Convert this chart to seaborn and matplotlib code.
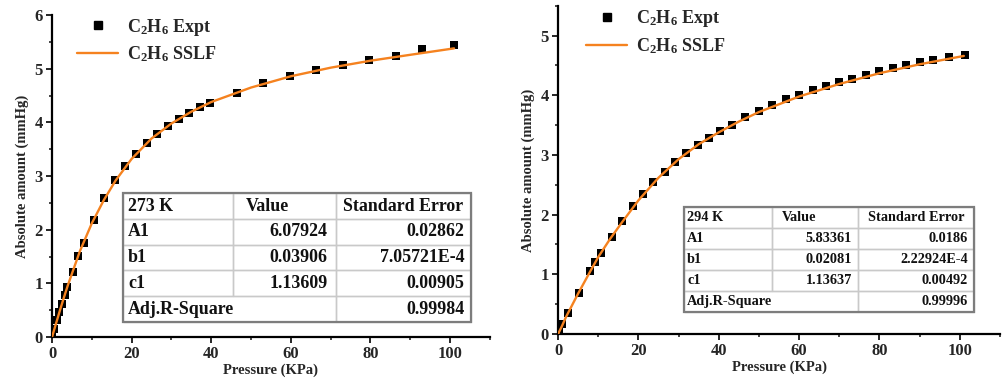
import matplotlib
matplotlib.use("Agg")
import matplotlib.pyplot as plt
import numpy as np
import pandas as pd
import seaborn as sns
from matplotlib.ticker import MultipleLocator
from matplotlib.table import Table
from matplotlib.patches import Rectangle
from matplotlib.lines import Line2D

# ---------------- data ----------------
p_273 = [0.1, 0.6, 1.25, 1.8, 2.4, 3.2, 3.8, 5.2, 6.6, 7.95, 10.5, 13.0, 15.8, 18.4,
         21.0, 23.8, 26.5, 29.2, 31.9, 34.5, 37.3, 39.8, 46.4, 53.1, 59.7, 66.3, 73.0,
         79.7, 86.3, 92.9, 101.1]
q_273 = [0.03, 0.15, 0.31, 0.46, 0.62, 0.78, 0.94, 1.22, 1.51, 1.76, 2.19, 2.59, 2.92,
         3.19, 3.41, 3.61, 3.78, 3.93, 4.07, 4.18, 4.28, 4.37, 4.55, 4.73, 4.86, 4.97,
         5.07, 5.16, 5.24, 5.36, 5.44]
fit_p_273 = [0, 1, 2, 3, 4, 5, 7, 10, 13, 16, 20, 25, 30, 35, 40, 50, 60, 70, 80, 90, 101]
fit_q_273 = [0, 0.25, 0.5, 0.74, 0.97, 1.18, 1.6, 2.12, 2.55, 2.92, 3.32, 3.7, 3.98,
             4.2, 4.38, 4.65, 4.86, 5.02, 5.15, 5.26, 5.38]

p_294 = [0.25, 1.06, 2.46, 5.1, 8.0, 9.2, 10.6, 13.3, 16.0, 18.6, 21.1, 23.6, 26.5,
         29.2, 31.9, 34.7, 37.5, 40.2, 43.2, 46.4, 49.9, 53.3, 56.8, 60.0, 63.4, 66.7,
         69.9, 73.2, 76.7, 79.9, 83.3, 86.7, 90.0, 93.3, 97.4, 101.2]
q_294 = [0.08, 0.17, 0.35, 0.69, 1.05, 1.20, 1.35, 1.62, 1.89, 2.14, 2.34, 2.54, 2.72,
         2.88, 3.03, 3.16, 3.28, 3.40, 3.51, 3.64, 3.74, 3.84, 3.93, 4.01, 4.09, 4.16,
         4.23, 4.28, 4.34, 4.40, 4.45, 4.50, 4.55, 4.59, 4.64, 4.68]
fit_p_294 = [0, 1, 2, 5, 8, 10, 13, 16, 20, 25, 30, 35, 40, 45, 50, 60, 70, 80, 90, 101]
fit_q_294 = [0, 0.14, 0.29, 0.68, 1.05, 1.29, 1.6, 1.88, 2.24, 2.62, 2.93, 3.18, 3.38,
             3.56, 3.72, 3.98, 4.19, 4.37, 4.52, 4.66]

params = ["A1", "b1", "c1"]
header_273 = ["273 K", "Value", "Standard Error"]
values_273 = ["6.07924", "0.03906", "1.13609"]
errors_273 = ["0.02862", "7.05721E-4", "0.00905"]
adjr2_273 = "0.99984"
header_294 = ["294 K", "Value", "Standard Error"]
values_294 = ["5.83361", "0.02081", "1.13637"]
errors_294 = ["0.0186", "2.22924E-4", "0.00492"]
adjr2_294 = "0.99996"

expt_label = r"C$_\mathregular{2}$H$_\mathregular{6}$ Expt"
fit_label = r"C$_\mathregular{2}$H$_\mathregular{6}$ SSLF"

# ---------------- style ----------------
sns.set_theme(style="ticks")
plt.rcParams["font.family"] = ["Liberation Serif", "DejaVu Serif"]
plt.rcParams["font.weight"] = "bold"
plt.rcParams["axes.labelweight"] = "bold"
plt.rcParams["mathtext.fontset"] = "custom"
plt.rcParams["mathtext.rm"] = "Liberation Serif:bold"
plt.rcParams["mathtext.it"] = "Liberation Serif:bold:italic"
plt.rcParams["mathtext.bf"] = "Liberation Serif:bold"

ORANGE = "#F5821F"

fig = plt.figure(figsize=(10.02, 3.87), dpi=100)
ax1 = fig.add_axes([0.0519, 0.129, 0.437, 0.832])
ax2 = fig.add_axes([0.557, 0.137, 0.441, 0.848])


def draw_panel(ax, p, q, fp, fq, ylim, leg_anchor):
    df = pd.DataFrame({"P": p, "q": q})
    dfit = pd.DataFrame({"P": fp, "q": fq})
    sns.scatterplot(data=df, x="P", y="q", ax=ax, marker="s", s=32, color="black",
                    linewidth=0, zorder=2)
    sns.lineplot(data=dfit, x="P", y="q", ax=ax, color=ORANGE, lw=1.7, zorder=3)
    ax.set_xlim(0, 110)
    ax.set_ylim(*ylim)
    ax.xaxis.set_major_locator(MultipleLocator(20))
    ax.xaxis.set_minor_locator(MultipleLocator(10))
    ax.yaxis.set_major_locator(MultipleLocator(1))
    ax.yaxis.set_minor_locator(MultipleLocator(0.5))
    ax.tick_params(which="major", direction="out", length=4.5, width=1.4,
                   labelsize=12, pad=2)
    ax.tick_params(which="minor", direction="out", length=2.5, width=1.2)
    for lab in ax.get_xticklabels() + ax.get_yticklabels():
        lab.set_fontweight("bold")
    for s in ["left", "bottom"]:
        ax.spines[s].set_linewidth(1.6)
        ax.spines[s].set_color("black")
    for s in ["right", "top"]:
        ax.spines[s].set_visible(False)
    ax.set_xlabel("Pressure (KPa)", fontsize=10.5, fontweight="bold", labelpad=1)
    ax.set_ylabel("Absolute amount (mmHg)", fontsize=10.5, fontweight="bold", labelpad=4)
    h1 = Line2D([], [], marker="s", color="black", ls="none", markersize=5.5)
    h2 = Line2D([], [], color=ORANGE, lw=1.7)
    ax.legend([h1, h2], [expt_label, fit_label], loc="upper left",
              bbox_to_anchor=leg_anchor, frameon=False, fontsize=13,
              handlelength=2.3, handletextpad=0.45, labelspacing=0.38,
              borderpad=0, borderaxespad=0)


def draw_table(ax, bbox, colw, fs, header, values, errors, r2, pads):
    # white background behind the table
    ax.add_patch(Rectangle((bbox[0], bbox[1]), bbox[2], bbox[3], transform=ax.transAxes,
                           facecolor="white", edgecolor="none", zorder=5))
    tb = Table(ax, bbox=bbox)
    tb.set_zorder(10)
    rows = [header] + [[a, v, e] for a, v, e in zip(params, values, errors)] + \
           [["Adj.R-Square", "", r2]]
    h = 1.0 / len(rows)
    for r, row in enumerate(rows):
        for c, txt in enumerate(row):
            if c == 0:
                loc = "left"
            elif r == 0:
                loc = "left" if c == 1 else "center"
            else:
                loc = "right"
            cell = tb.add_cell(r, c, width=colw[c], height=h, text=txt, loc=loc,
                               edgecolor="#c9c9c9", facecolor="none", fill=False)
            if r == len(rows) - 1 and c == 0:
                cell.visible_edges = "BLT"
            if r == len(rows) - 1 and c == 1:
                cell.visible_edges = "BTR"
            cell.set_linewidth(1.0)
            cell.PAD = pads[c] if not (r == 0 and c == 1) else 0.12
            t = cell.get_text()
            t.set_fontsize(fs)
            t.set_fontweight("bold")
            t.set_color("#111111")
    tb.auto_set_font_size(False)
    ax.add_table(tb)
    ax.add_patch(Rectangle((bbox[0], bbox[1]), bbox[2], bbox[3], transform=ax.transAxes,
                           fill=False, edgecolor="#7d7d7d", lw=1.6, zorder=20,
                           clip_on=False))


draw_panel(ax1, p_273, q_273, fit_p_273, fit_q_273, (0, 6), (0.057, 0.995))
draw_panel(ax2, p_294, q_294, fit_p_294, fit_q_294, (0, 5.5), (0.063, 0.993))

draw_table(ax1, [0.162, 0.047, 0.795, 0.400], [0.316, 0.296, 0.388], 12.9,
           header_273, values_273, errors_273, adjr2_273, [0.045, 0.08, 0.05])
draw_table(ax2, [0.285, 0.067, 0.656, 0.320], [0.303, 0.297, 0.400], 10.3,
           header_294, values_294, errors_294, adjr2_294, [0.035, 0.07, 0.05])

fig.savefig("out.png", dpi=100)
